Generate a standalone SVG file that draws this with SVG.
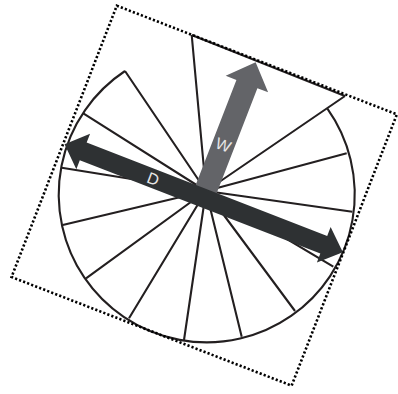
<svg xmlns="http://www.w3.org/2000/svg" width="398" height="394" viewBox="0 0 398 394">
  <style>
    .ln { fill: none; stroke: #231f20; stroke-width: 2.1; stroke-linejoin: miter; }
    .dot { fill: none; stroke: #000; stroke-width: 2.6; stroke-dasharray: 2.2 2.1; }
    .lbl { font-family: "Liberation Sans", Arial, sans-serif; font-size: 16px; fill: #e6e6e6; text-anchor: middle; }
  </style>
  <rect width="398" height="394" fill="#ffffff"/>
  <g id="wheel">
    <path class="ln" d="M125,71 A148,148 0 1 0 327.4,108.7"/>
    <path class="ln" d="M191.7,35 L345,96"/>
    <g id="spokes">
      <path class="ln" d="M206,191 L125,71 M206,191 L83.3,113.3 M206,191 L61.7,167.7 M206,191 L62.7,225 M206,191 L86,278.3 M206,191 L129,318.3 M206,191 L184,340 M206,191 L241.7,336.7 M206,191 L295,311 M206,191 L333.3,266.7 M206,191 L352.3,211.7 M206,191 L346.7,153.3 M206,191 L345,96 M206,191 L191.7,35"/>
    </g>
  </g>
  <g id="frame" transform="translate(204,194) rotate(21.2)">
    <rect class="dot" x="-149.4" y="-144" width="300.4" height="291"/>
  </g>
  <g id="connectors" transform="translate(204,194) rotate(21.2)">
    <g id="arrow-W">
      <polygon fill="#636468" points="-11,0 -11,-118 -22.5,-118 0.5,-141.5 23,-118 11.5,-118 11.5,0"/>
      <text class="lbl" x="0.3" y="-47">W</text>
    </g>
    <g id="arrow-D">
      <polygon fill="#2e3133" points="-148,4 -128,-15 -128,-5.5 130,-5.5 130,-15 150.5,4 130,23 130,13.5 -128,13.5 -128,23"/>
      <text class="lbl" x="-53" y="9.8">D</text>
    </g>
  </g>
</svg>
